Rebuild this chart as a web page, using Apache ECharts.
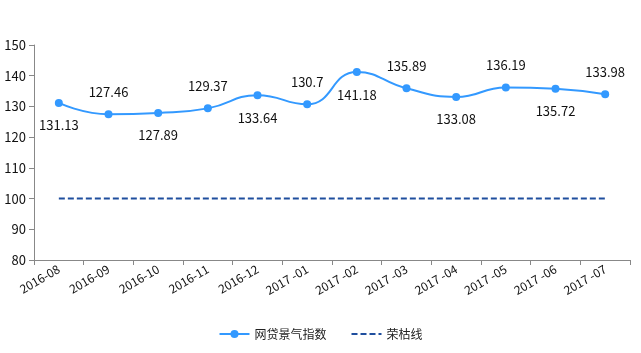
<!DOCTYPE html>
<html>
<head>
<meta charset="utf-8">
<script src="https://cdn.jsdelivr.net/npm/echarts@6/dist/echarts.min.js"></script>
<style>
  html, body { margin: 0; padding: 0; background: #fff; }
  #main { width: 641px; height: 353px; }
</style>
</head>
<body>
<div id="main"></div>
<script>
// data
var months = ['2016-08', '2016-09', '2016-10', '2016-11', '2016-12', '2017 -01',
  '2017 -02', '2017 -03', '2017 -04', '2017 -05', '2017 -06', '2017 -07'];
var indexValues = [131.13, 127.46, 127.89, 129.37, 133.64, 130.7,
  141.18, 135.89, 133.08, 136.19, 135.72, 133.98];
var boomLine = [100, 100, 100, 100, 100, 100, 100, 100, 100, 100, 100, 100];

var font = '"Noto Sans CJK SC", "Microsoft YaHei", sans-serif';

var chart = echarts.init(document.getElementById('main'));

// labels alternate below / above the points
var indexData = indexValues.map(function (v, i) {
  return {
    value: v,
    label: { position: i % 2 === 0 ? 'bottom' : 'top' }
  };
});

chart.setOption({
  animation: false,
  textStyle: { fontFamily: font },
  grid: { left: 34, right: 11, top: 45, bottom: 93 },
  legend: {
    bottom: 8,
    left: 'center',
    itemGap: 24,
    itemWidth: 30,
    itemHeight: 10,
    textStyle: { fontSize: 12, color: '#222', fontFamily: font },
    data: [
      { name: '网贷景气指数' },
      { name: '荣枯线', itemStyle: { opacity: 0 } }
    ]
  },
  xAxis: {
    type: 'category',
    data: months,
    boundaryGap: true,
    axisLine: { lineStyle: { color: '#888', width: 1 } },
    axisTick: { show: true, alignWithLabel: false, length: 5, lineStyle: { color: '#888' } },
    axisLabel: {
      interval: 0,
      rotate: 30,
      color: '#111',
      fontSize: 12,
      margin: 8,
      fontFamily: font
    }
  },
  yAxis: {
    type: 'value',
    min: 80,
    max: 150,
    interval: 10,
    axisLine: { show: true, lineStyle: { color: '#888', width: 1 } },
    axisTick: { show: true, length: 5, lineStyle: { color: '#888' } },
    splitLine: { show: false },
    axisLabel: { color: '#111', fontSize: 13, margin: 8, fontFamily: font }
  },
  series: [
    {
      name: '网贷景气指数',
      type: 'line',
      data: indexData,
      smooth: 0.5,
      symbol: 'circle',
      symbolSize: 8,
      itemStyle: { color: '#3399ff' },
      lineStyle: { color: '#3399ff', width: 2 },
      label: {
        show: true,
        distance: 12,
        color: '#111',
        fontSize: 13,
        fontFamily: font
      }
    },
    {
      name: '荣枯线',
      type: 'line',
      data: boomLine,
      symbol: 'none',
      itemStyle: { color: '#1f4e9e' },
      lineStyle: { color: '#1f4e9e', width: 2, type: [6, 3] }
    }
  ]
});
</script>
</body>
</html>
